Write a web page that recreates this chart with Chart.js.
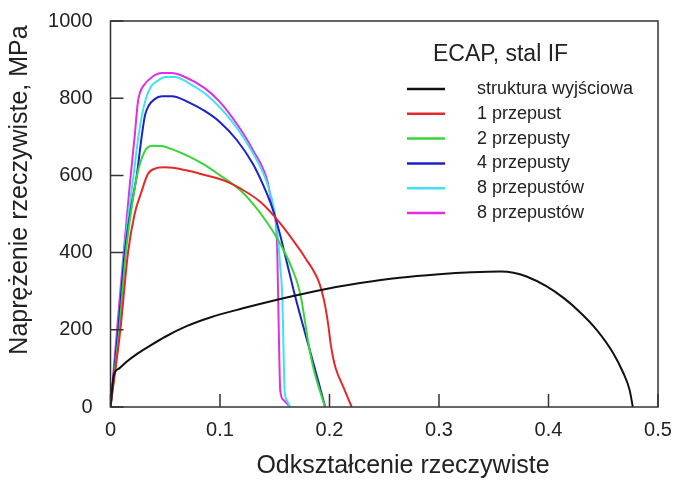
<!DOCTYPE html>
<html>
<head>
<meta charset="utf-8">
<script src="https://cdn.jsdelivr.net/npm/chart.js@4.4.1/dist/chart.umd.min.js"></script>
<style>
html,body{margin:0;padding:0;background:#fff;}
#c{display:block;}
</style>
</head>
<body>
<canvas id="c" width="678" height="482"></canvas>
<script>
// ---- data ----
const legendTitle = 'ECAP, stal IF';
const xTitle = 'Odkształcenie rzeczywiste';
const yTitle = 'Naprężenie rzeczywiste, MPa';
const seriesNames = ['struktura wyjściowa', '1 przepust', '2 przepusty', '4 przepusty', '8 przepustów', '8 przepustów'];
const xTicks = [0, 0.1, 0.2, 0.3, 0.4, 0.5];
const yTicks = [0, 200, 400, 600, 800, 1000];

const strain0 = [0, 0.003, 0.008, 0.015, 0.024, 0.034, 0.05, 0.07, 0.091, 0.12, 0.155, 0.19, 0.228, 0.264, 0.3, 0.33, 0.356, 0.368, 0.38, 0.398, 0.414, 0.429, 0.444, 0.459, 0.468, 0.474, 0.477];
const stress0 = [0, 82, 100, 118, 137, 155, 182, 210, 232, 255, 280, 302, 321, 335, 344, 349, 351, 348, 338, 313, 282, 245, 200, 140, 90, 45, 0];

const strain1 = [0, 0.009, 0.016, 0.022, 0.028, 0.034, 0.041, 0.05, 0.068, 0.086, 0.105, 0.118, 0.137, 0.155, 0.173, 0.179, 0.185, 0.189, 0.193, 0.1965, 0.199, 0.201, 0.2035, 0.206, 0.2126, 0.2203];
const stress1 = [0, 200, 400, 500, 555, 603, 618, 621, 614, 601, 585, 567, 531, 476, 407, 381, 355, 333, 300, 255, 210, 165, 125, 97, 52, 0];

const strain2 = [0, 0.008, 0.014, 0.02, 0.025, 0.029, 0.033, 0.039, 0.047, 0.056, 0.071, 0.086, 0.1, 0.118, 0.13, 0.143, 0.152, 0.161, 0.167, 0.171, 0.174, 0.177, 0.18, 0.185, 0.191, 0.196];
const stress2 = [0, 200, 400, 530, 610, 648, 670, 677, 676, 668, 650, 627, 600, 563, 527, 478, 438, 390, 350, 318, 283, 233, 177, 104, 44, 0];

const strain4 = [0, 0.007, 0.013, 0.019, 0.024, 0.028, 0.0315, 0.035, 0.04, 0.047, 0.056, 0.071, 0.086, 0.1, 0.115, 0.13, 0.139, 0.146, 0.15, 0.155, 0.161, 0.167, 0.173, 0.18, 0.186, 0.191, 0.196];
const stress4 = [0, 200, 400, 520, 600, 690, 756, 781, 797, 805, 805, 790, 767, 738, 693, 630, 578, 530, 496, 445, 375, 305, 240, 168, 106, 54, 0];

const strain8a = [0, 0.007, 0.0125, 0.021, 0.025, 0.029, 0.033, 0.037, 0.043, 0.05, 0.059, 0.071, 0.086, 0.1, 0.115, 0.13, 0.143, 0.15, 0.153, 0.155, 0.157, 0.158, 0.159, 0.161, 0.164];
const stress8a = [0, 200, 400, 600, 690, 760, 805, 830, 845, 855, 855, 840, 813, 776, 725, 658, 580, 503, 433, 363, 277, 150, 44, 18, 0];

const strain8b = [0, 0.006, 0.012, 0.018, 0.022, 0.025, 0.027, 0.03, 0.038, 0.047, 0.056, 0.068, 0.086, 0.1, 0.115, 0.13, 0.143, 0.148, 0.152, 0.153, 0.154, 0.155, 0.158, 0.164];
const stress8b = [0, 200, 400, 588, 699, 790, 815, 832, 855, 865, 865, 855, 826, 790, 735, 666, 588, 518, 433, 300, 150, 44, 18, 0];

// ---- styles ----
const colors = ['#111111', '#e3282c', '#38d43a', '#1c22c8', '#40e2ef', '#e02fe3'];
const allX = [strain0, strain1, strain2, strain4, strain8a, strain8b];
const allY = [stress0, stress1, stress2, stress4, stress8a, stress8b];

const FONT = '"Liberation Sans", Arial, Helvetica, sans-serif';
const TXT = '#222222';

const datasets = seriesNames.map((name, i) => ({
  label: name,
  data: allX[i].map((x, k) => ({x: x, y: allY[i][k]})),
  borderColor: colors[i],
  backgroundColor: colors[i],
  borderWidth: 2,
  pointRadius: 0,
  showLine: true,
  fill: false,
  cubicInterpolationMode: 'monotone'
}));

const framePlugin = {
  id: 'frame',
  afterDraw(chart) {
    const ctx = chart.ctx;
    const a = chart.chartArea;
    const xs = chart.scales.x, ys = chart.scales.y;
    ctx.save();
    ctx.strokeStyle = '#333333';
    ctx.lineWidth = 1.5;
    ctx.strokeRect(a.left, a.top, a.right - a.left, a.bottom - a.top);
    ctx.beginPath();
    xTicks.forEach(v => {
      const px = xs.getPixelForValue(v);
      ctx.moveTo(px, a.bottom);
      ctx.lineTo(px, a.bottom - 13);
    });
    yTicks.forEach(v => {
      const py = ys.getPixelForValue(v);
      ctx.moveTo(a.left, py);
      ctx.lineTo(a.left + 13, py);
    });
    ctx.stroke();

    // axis titles
    ctx.fillStyle = TXT;
    ctx.font = '25px ' + FONT;
    ctx.textAlign = 'center';
    ctx.textBaseline = 'middle';
    ctx.fillText(xTitle, 403, 466);
    ctx.save();
    ctx.translate(20, 190);
    ctx.rotate(-Math.PI / 2);
    ctx.fillText(yTitle, 0, 0);
    ctx.restore();

    // legend
    ctx.textAlign = 'left';
    ctx.font = '23px ' + FONT;
    ctx.fillText(legendTitle, 433, 55);
    ctx.font = '18px ' + FONT;
    chart.data.datasets.forEach((ds, i) => {
      const y = 89 + i * 24.8;
      ctx.strokeStyle = ds.borderColor;
      ctx.lineWidth = 2.5;
      ctx.beginPath();
      ctx.moveTo(407, y);
      ctx.lineTo(445, y);
      ctx.stroke();
      ctx.fillStyle = TXT;
      ctx.fillText(ds.label, 477, y);
    });
    ctx.restore();
  }
};

new Chart(document.getElementById('c'), {
  type: 'scatter',
  data: { datasets: datasets },
  options: {
    responsive: false,
    animation: false,
    devicePixelRatio: 1,
    layout: { padding: { left: 0, right: 20, top: 21, bottom: 0 } },
    plugins: { legend: { display: false }, tooltip: { enabled: false } },
    scales: {
      x: {
        type: 'linear', min: 0, max: 0.5,
        afterBuildTicks: s => { s.ticks = xTicks.map(v => ({value: v})); },
        afterFit: s => { s.height = 75; s.paddingLeft = 0; s.paddingRight = 0; },
        grid: { display: false, drawTicks: false },
        border: { display: false },
        ticks: {
          padding: 11, color: TXT, font: { size: 20, family: FONT },
          maxRotation: 0,
          callback: v => (v === 0 ? '0' : Number(v).toFixed(1))
        }
      },
      y: {
        type: 'linear', min: 0, max: 1000,
        afterBuildTicks: s => { s.ticks = yTicks.map(v => ({value: v})); },
        afterFit: s => { s.width = 110.5; s.paddingTop = 0; s.paddingBottom = 0; },
        grid: { display: false, drawTicks: false },
        border: { display: false },
        ticks: {
          padding: 18, color: TXT, font: { size: 20, family: FONT },
          callback: v => String(v)
        }
      }
    }
  },
  plugins: [framePlugin]
});
</script>
</body>
</html>
